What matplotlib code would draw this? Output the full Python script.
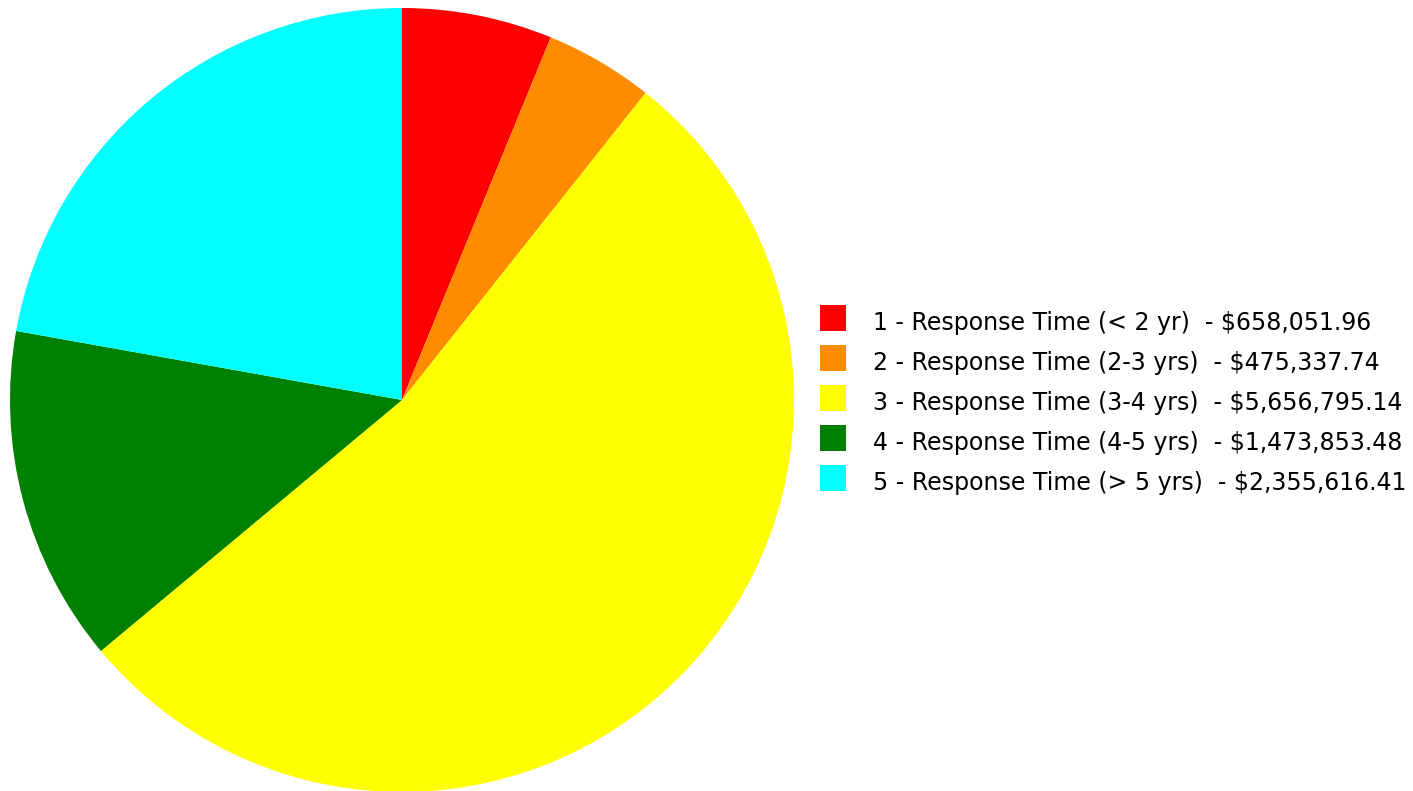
#!/usr/bin/env python3
"""Pie chart of dollar totals by response time bucket."""

import matplotlib
matplotlib.use('Agg')
import matplotlib.pyplot as plt
from matplotlib.patches import Rectangle
from matplotlib.legend_handler import HandlerPatch

categories = [
    '1 - Response Time (< 2 yr)',
    '2 - Response Time (2-3 yrs)',
    '3 - Response Time (3-4 yrs)',
    '4 - Response Time (4-5 yrs)',
    '5 - Response Time (> 5 yrs)',
]
amounts = [658051.96, 475337.74, 5656795.14, 1473853.48, 2355616.41]
colors = ['#ff0000', '#ff8c00', '#ffff00', '#008000', '#00ffff']

W, H = 1413, 791
fig = plt.figure(figsize=(W / 100, H / 100), dpi=100)

# pie centre ~ (402, 400) px, radius ~392 px
cx, cy, r = 402, 400, 392
ax = fig.add_axes([(cx - r) / W, (H - cy - r) / H, 2 * r / W, 2 * r / H])
wedges, _ = ax.pie(amounts, colors=colors, startangle=90, counterclock=False,
                   radius=1.0, wedgeprops=dict(linewidth=0))
ax.set_xlim(-1, 1)
ax.set_ylim(-1, 1)
ax.set_aspect('equal')
ax.axis('off')

labels = [f'{c}  - ${a:,.2f}' for c, a in zip(categories, amounts)]

PT = 0.72  # points per pixel at dpi 100
SQ = 26 * PT  # square swatch size


def square_swatch(legend, orig_handle, xdescent, ydescent, width, height, fontsize):
    # square sitting slightly above the text baseline
    return Rectangle((-xdescent, -0.5 * PT), SQ, SQ)


fs = 17
fs_px = fs / PT
fig.legend(
    wedges, labels,
    loc='upper left',
    bbox_to_anchor=(820 / W, 1 - 311 / H),
    bbox_transform=fig.transFigure,
    frameon=False,
    prop={'family': 'DejaVu Sans', 'size': fs},
    handler_map={type(wedges[0]): HandlerPatch(patch_func=square_swatch)},
    handlelength=26 / fs_px,
    handleheight=1.0,
    handletextpad=27 / fs_px,
    labelspacing=(40 - 24) / fs_px,
    borderpad=0,
    borderaxespad=0,
)

plt.savefig('out.png', dpi=100)
plt.close()
